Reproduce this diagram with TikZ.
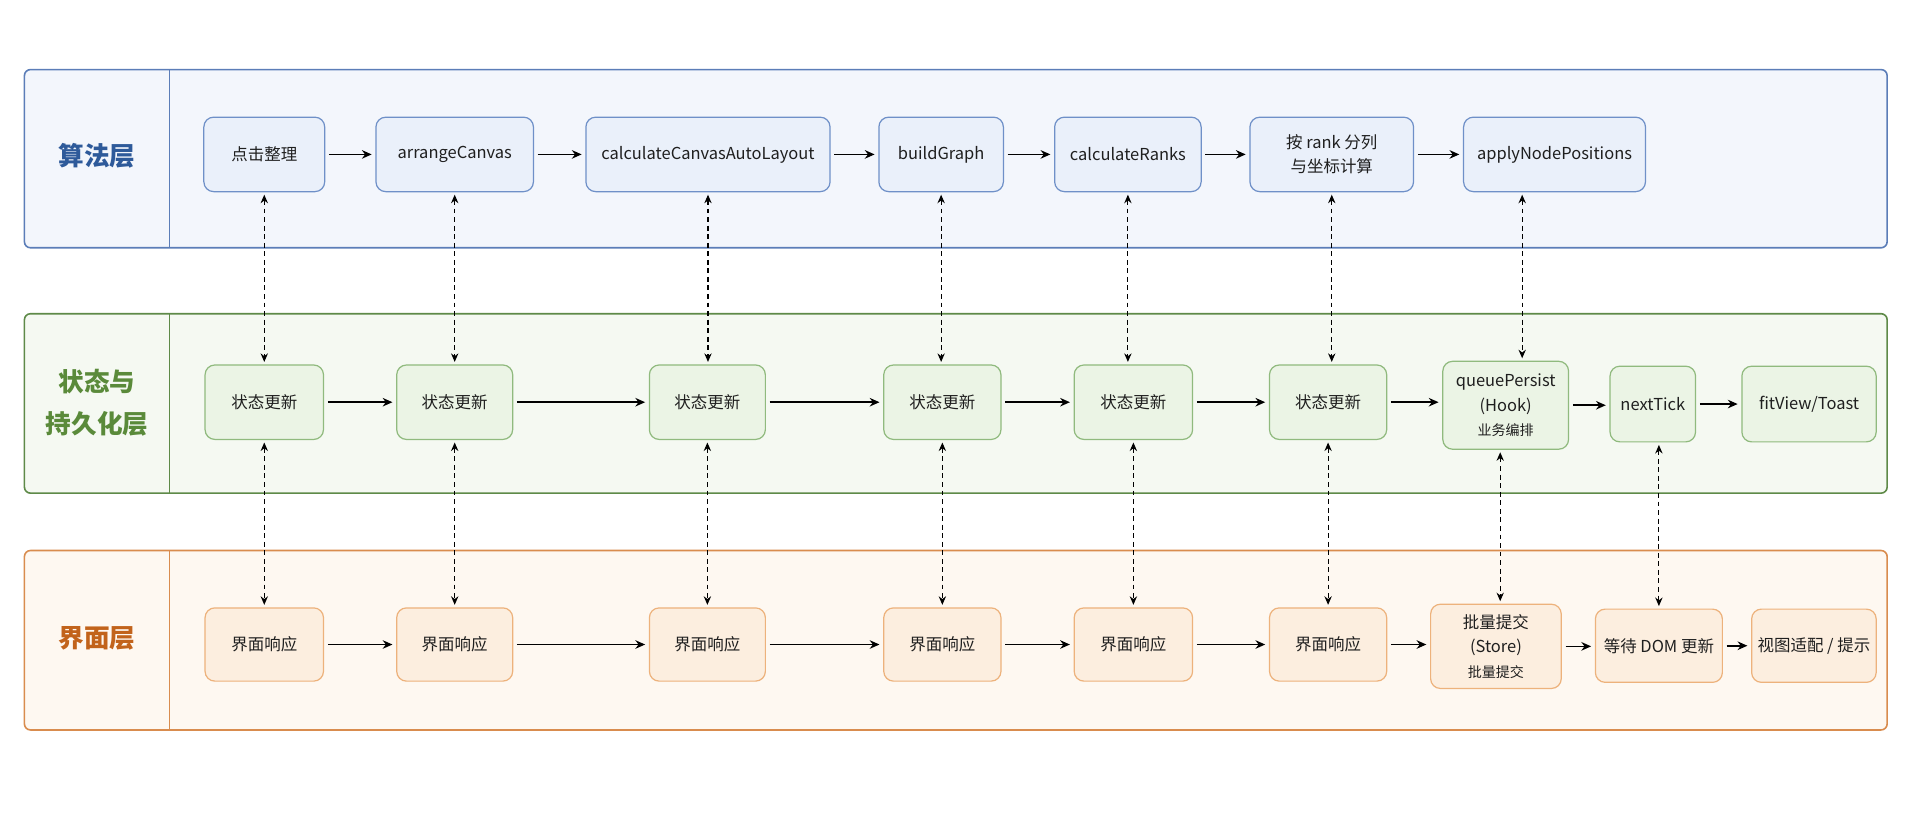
\documentclass[tikz,border=0pt]{standalone}
\usepackage{fontspec}
\setmainfont{Noto Sans CJK SC}
\usetikzlibrary{arrows.meta}
\definecolor{algoFill}{HTML}{F3F6FC}
\definecolor{algoLine}{HTML}{5B7DB8}
\definecolor{algoNode}{HTML}{EAF0FA}
\definecolor{algoNodeLine}{HTML}{6F90C8}
\definecolor{algoText}{HTML}{2E5A9A}
\definecolor{stFill}{HTML}{F5F9F2}
\definecolor{stLine}{HTML}{5E8A48}
\definecolor{stNode}{HTML}{EBF4E5}
\definecolor{stNodeLine}{HTML}{90BA7E}
\definecolor{stText}{HTML}{5A8A3A}
\definecolor{uiFill}{HTML}{FEF8F1}
\definecolor{uiLine}{HTML}{D98C4E}
\definecolor{uiNode}{HTML}{FCEEDF}
\definecolor{uiNodeLine}{HTML}{EDB27C}
\definecolor{uiText}{HTML}{C2631B}
\definecolor{txt}{HTML}{1F1F1F}
\newcommand{\smalltxt}{\fontsize{11.5}{16}\selectfont}
\tikzset{
  panel/.style={rounded corners=5pt, line width=1.3pt},
  box/.style={rounded corners=8pt, line width=1pt, align=center, inner sep=2pt,
    text=txt, font=\fontsize{13.5}{20}\selectfont},
  abox/.style={box, draw=algoNodeLine, fill=algoNode, minimum height=61pt},
  sbox/.style={box, draw=stNodeLine, fill=stNode, minimum height=61pt},
  ubox/.style={box, draw=uiNodeLine, fill=uiNode, minimum height=60pt},
  lab/.style={font=\fontsize{21}{34}\selectfont\bfseries, align=center},
  flow/.style={-{Stealth[length=8pt,width=7pt]}, line width=1.3pt, black, shorten <=3pt, shorten >=3pt},
  link/.style={{Stealth[length=7pt,width=6pt]}-{Stealth[length=7pt,width=6pt]}, line width=0.9pt, black,
    dash pattern=on 4pt off 3pt, shorten <=2pt, shorten >=2pt}
}

\begin{document}

\begin{tikzpicture}[x=1pt,y=-1pt]
\useasboundingbox[fill=white] (0,0) rectangle (1568,673.4);
% panels
\draw[panel, draw=algoLine, fill=algoFill] (20,57) rectangle (1546,203);
\draw[algoLine, line width=1.1pt] (139,57) -- (139,203);
\draw[panel, draw=stLine, fill=stFill] (20,257) rectangle (1546,404);
\draw[stLine, line width=1.1pt] (139,257) -- (139,404);
\draw[panel, draw=uiLine, fill=uiFill] (20,451) rectangle (1546,598);
\draw[uiLine, line width=1.1pt] (139,451) -- (139,598);
\node[lab, text=algoText] (la) at (79.5,128) {算法层};
\node[lab, text=stText] (ls) at (79.5,330) {状态与\\持久化层};
\node[lab, text=uiText] (lu) at (79.5,523) {界面层};
% algorithm nodes
\node[abox, minimum width=99pt] (a1) at (216.5,126.5) {点击整理};
\node[abox, minimum width=129pt] (a2) at (372.5,126.5) {arrangeCanvas};
\node[abox, minimum width=200pt] (a3) at (580,126.5) {calculateCanvasAutoLayout};
\node[abox, minimum width=102pt] (a4) at (771,126.5) {buildGraph};
\node[abox, minimum width=120pt] (a5) at (924,126.5) {calculateRanks};
\node[abox, minimum width=134pt] (a6) at (1091,126.5) {按 rank 分列\\与坐标计算};
\node[abox, minimum width=149pt] (a7) at (1273.5,126.5) {applyNodePositions};
% state nodes
\node[sbox, minimum width=97pt] (s1) at (216.5,329.5) {状态更新};
\node[sbox, minimum width=95pt] (s2) at (372.5,329.5) {状态更新};
\node[sbox, minimum width=95pt] (s3) at (579.5,329.5) {状态更新};
\node[sbox, minimum width=96pt] (s4) at (772,329.5) {状态更新};
\node[sbox, minimum width=97pt] (s5) at (928.5,329.5) {状态更新};
\node[sbox, minimum width=96pt] (s6) at (1088,329.5) {状态更新};
\node[sbox, minimum width=103pt, minimum height=72pt] (s7) at (1233.5,332) {queuePersist\\(Hook)\\{\smalltxt 业务编排}};
\node[sbox, minimum width=70pt, minimum height=62pt] (s8) at (1354,331) {nextTick};
\node[sbox, minimum width=110pt, minimum height=62pt] (s9) at (1482,331) {fitView/Toast};
% ui nodes
\node[ubox, minimum width=97pt] (u1) at (216.5,528) {界面响应};
\node[ubox, minimum width=95pt] (u2) at (372.5,528) {界面响应};
\node[ubox, minimum width=95pt] (u3) at (579.5,528) {界面响应};
\node[ubox, minimum width=96pt] (u4) at (772,528) {界面响应};
\node[ubox, minimum width=97pt] (u5) at (928.5,528) {界面响应};
\node[ubox, minimum width=96pt] (u6) at (1088,528) {界面响应};
\node[ubox, minimum width=107pt, minimum height=69pt] (u7) at (1225.5,529.5) {批量提交\\(Store)\\{\smalltxt 批量提交}};
\node[ubox, minimum width=104pt] (u8) at (1359,529) {等待 DOM 更新};
\node[ubox, minimum width=102pt] (u9) at (1486,529) {视图适配 / 提示};
% horizontal flows
\foreach \i/\j in {a1/a2,a2/a3,a3/a4,a4/a5,a5/a6,a6/a7,
  s1/s2,s2/s3,s3/s4,s4/s5,s5/s6,s6/s7,s7/s8,s8/s9,
  u1/u2,u2/u3,u3/u4,u4/u5,u5/u6,u6/u7,u7/u8,u8/u9}
  \draw[flow] (\i.east) -- (\i.east -| \j.west);
% dashed links algo <-> state
\foreach \k in {1,...,6}
  \draw[link] (a\k.south) -- (a\k.south |- s\k.north);
\coordinate (c7) at ([xshift=-26.5pt]a7.south);
\draw[link] (c7) -- (c7 |- s7.north);
% dashed links state <-> ui
\foreach \k in {1,...,6}
  \draw[link] (s\k.south) -- (s\k.south |- u\k.north);
\coordinate (d7) at ([xshift=-4.5pt]s7.south);
\draw[link] (d7) -- (d7 |- u7.north);
\draw[link] (s8.south -| u8.north) -- (u8.north);
\end{tikzpicture}

\end{document}
